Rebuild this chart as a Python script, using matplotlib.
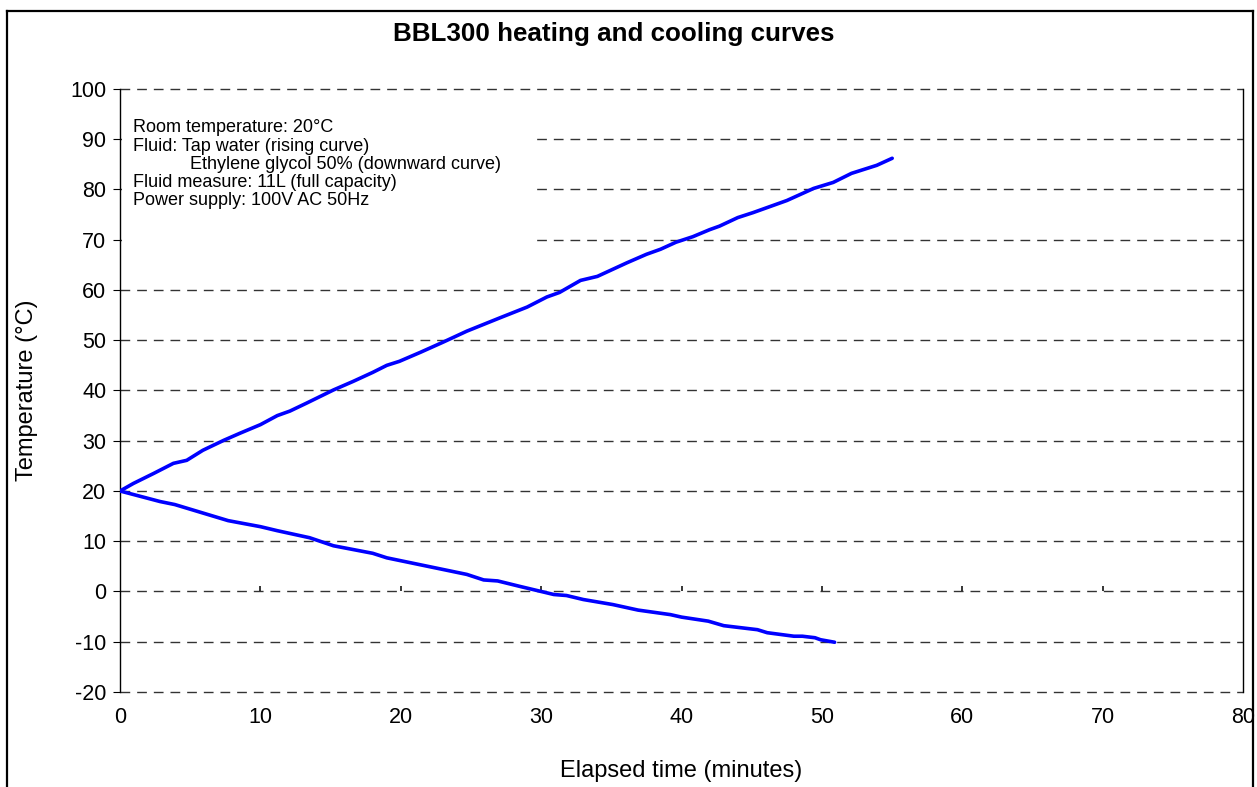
import matplotlib.pyplot as plt
from matplotlib.patches import Rectangle
from matplotlib.lines import Line2D

plt.rcParams['font.family'] = ['Liberation Sans', 'DejaVu Sans']
plt.rcParams['axes.unicode_minus'] = False

# heating curve (tap water), minutes vs deg C
heat_t = [0, 0.95, 2.4, 3.8, 4.75, 5.9, 7.4, 8.55, 10, 11.2, 12.1, 13.3, 15.2, 16.6,
          18.0, 19, 19.9, 21.4, 23.0, 24.7, 27.1, 29.0, 30.4, 31.3, 32.8, 34, 36.1,
          37.5, 38.5, 39.6, 40.8, 42, 42.7, 44, 45.1, 47.5, 49.4, 50.8, 52.1, 53.9, 55]
heat_T = [20, 21.5, 23.5, 25.5, 26.1, 28.1, 30.1, 31.5, 33.2, 35.0, 35.9, 37.5, 40.1, 41.8,
          43.6, 45.0, 45.8, 47.6, 49.6, 51.8, 54.5, 56.6, 58.6, 59.5, 61.9, 62.7, 65.4,
          67.1, 68.1, 69.5, 70.6, 72.0, 72.7, 74.4, 75.4, 77.8, 80.2, 81.4, 83.2, 84.8, 86.2]

# cooling curve (ethylene glycol 50%)
cool_t = [0, 2.85, 3.9, 7.7, 10, 11.2, 13.5, 15.2, 18, 19, 24.7, 25.9, 26.9, 28.5,
          30.9, 31.8, 33, 35.1, 36.9, 39.2, 40, 41.9, 43, 45.4, 46.1, 48, 48.6, 49.5,
          49.9, 50.9]
cool_T = [20, 17.9, 17.3, 14.1, 12.9, 12.1, 10.7, 9.1, 7.6, 6.7, 3.4, 2.3, 2.1, 1.0,
          -0.6, -0.8, -1.6, -2.6, -3.7, -4.6, -5.1, -5.9, -6.8, -7.6, -8.2, -8.9, -8.9, -9.2,
          -9.6, -10.1]

x_ticks = [0, 10, 20, 30, 40, 50, 60, 70, 80]
y_ticks = [-20, -10, 0, 10, 20, 30, 40, 50, 60, 70, 80, 90, 100]

notes = ['Room temperature: 20\u00b0C',
         'Fluid: Tap water (rising curve)',
         'Ethylene glycol 50% (downward curve)',
         'Fluid measure: 11L (full capacity)',
         'Power supply: 100V AC 50Hz']
note_indent = [0, 0, 1, 0, 0]

fig = plt.figure(figsize=(12.57, 7.87), dpi=100)
ax = fig.add_axes([0.0955, 0.1207, 0.8935, 0.7663])

ax.set_xlim(0, 80)
ax.set_ylim(-20, 100)
ax.set_xticks(x_ticks)
ax.set_yticks(y_ticks)
ax.tick_params(axis='x', length=0, pad=11, labelsize=15.5)
ax.tick_params(axis='y', length=5, width=0.8, pad=5, labelsize=15.5, direction='out')

for s in ['top', 'bottom']:
    ax.spines[s].set_visible(False)
for s in ['left', 'right']:
    ax.spines[s].set_linewidth(1.0)

# dashed horizontal grid
for y in y_ticks:
    ax.axhline(y, color='#333333', lw=1.0, ls=(0, (7, 5)), zorder=1, clip_on=False)

# small tick marks sitting on the 0 line
ax.vlines(x_ticks[1:-1], 0, 1.1, color='black', lw=1.1, zorder=2)

# white box behind notes
ax.add_patch(Rectangle((0.002, 0.733), 0.368, 0.257, transform=ax.transAxes,
                       facecolor='white', edgecolor='none', zorder=3))
for i, line in enumerate(notes):
    x0 = 0.0623 if note_indent[i] else 0.0116
    ax.text(x0, 0.9355 - i * 0.0303, line, transform=ax.transAxes,
            fontsize=13, va='center', ha='left', zorder=4)

ax.plot(heat_t, heat_T, color='#0000ff', lw=2.6, zorder=5, solid_capstyle='round')
ax.plot(cool_t, cool_T, color='#0000ff', lw=2.6, zorder=5, solid_capstyle='round')

ax.set_ylabel('Temperature (\u00b0C)', fontsize=17)
ax.yaxis.set_label_coords(-0.073, 0.5)
ax.set_xlabel('Elapsed time (minutes)', fontsize=17)
ax.xaxis.set_label_coords(0.5, -0.112)

fig.text(0.4885, 0.957, 'BBL300 heating and cooling curves', fontsize=18.7,
         fontweight='bold', ha='center', va='center')

# outer frame
fw = 1.6
fig.add_artist(Line2D([7 / 1257, 7 / 1257], [0, 1 - 11 / 787], color='black', lw=fw))
fig.add_artist(Line2D([1253 / 1257, 1253 / 1257], [0, 1 - 11 / 787], color='black', lw=fw))
fig.add_artist(Line2D([7 / 1257, 1253 / 1257], [1 - 11 / 787, 1 - 11 / 787], color='black', lw=fw))

fig.savefig('out.png', dpi=100)
